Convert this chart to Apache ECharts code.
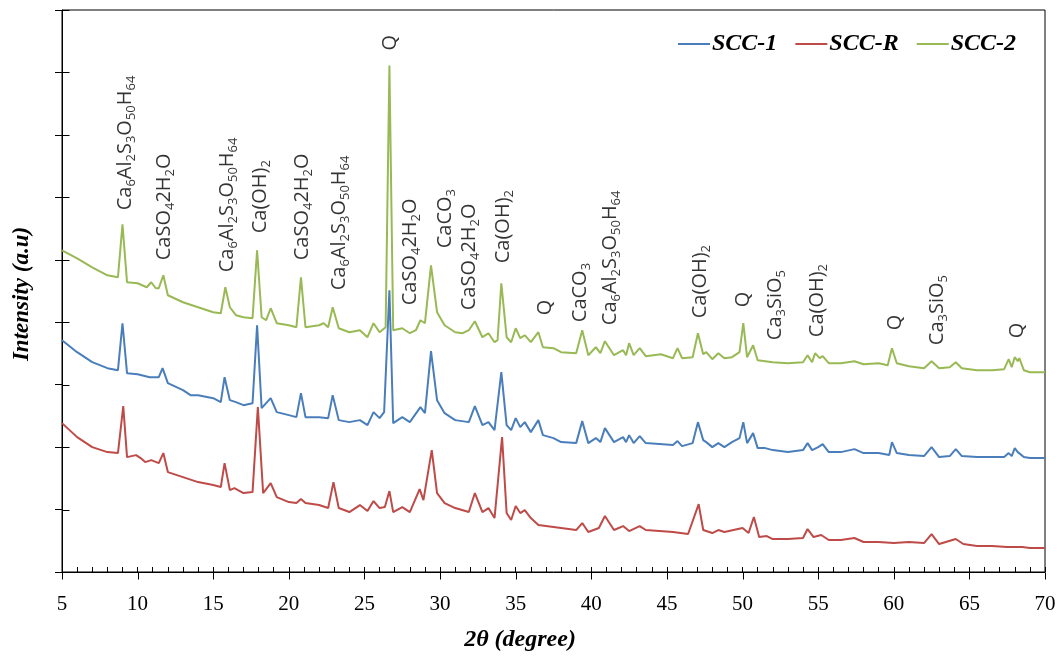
<!DOCTYPE html>
<html>
<head>
<meta charset="utf-8">
<script src="https://cdn.jsdelivr.net/npm/echarts@6/dist/echarts.min.js"></script>
<style>html,body{margin:0;padding:0;background:#fff}#c{width:1060px;height:656px}</style>
</head>
<body>
<div id="c"></div>
<script>
// 2θ (degree), intensity (a.u.)
const scc1 = [
[5,232],[6,220],[7,210],[8,204],[8.7,202],[9.0,249],[9.3,199],[10,198],[10.8,195],[11.4,195],[11.65,204],[12,189],[13,182],[13.5,177],[14,177],[15,174],[15.5,170],[15.75,195],[16.1,172],[16.5,170],[17,167],[17.6,169],[17.9,247],[18.2,164],[18.8,174],[19.2,160],[20,157],[20.5,155],[20.8,179],[21.1,155],[22,155],[22.6,154],[22.9,177],[23.3,152],[24,150],[24.7,152],[25.2,147],[25.6,160],[26.0,154],[26.3,160],[26.65,282],[26.9,149],[27.5,155],[28,150],[28.7,165],[29.0,159],[29.4,221],[29.8,172],[30.3,159],[31,152],[31.9,150],[32.3,166],[32.8,147],[33.2,150],[33.6,142],[34.05,200],[34.4,147],[34.7,142],[35.0,154],[35.3,145],[35.6,150],[36,140],[36.5,152],[36.8,137],[37.5,134],[38,130],[39,129],[39.4,151],[39.8,129],[40.3,134],[40.6,130],[40.9,144],[41.5,130],[42.1,135],[42.3,130],[42.5,137],[42.8,129],[43.2,136],[43.6,129],[44.5,128],[45.4,127],[45.7,131],[46,126],[46.7,129],[47.05,150],[47.4,132],[47.6,130],[48,125],[48.4,129],[48.8,125],[49.3,130],[49.8,134],[50.05,150],[50.3,129],[50.7,139],[51.0,124],[51.5,124],[52,122],[53,120],[54,122],[54.3,129],[54.6,122],[55.0,125],[55.3,128],[55.7,120],[56.5,120],[57.4,123],[58,119],[59,119],[59.7,117],[59.88,130],[60.2,119],[61,117],[62,116],[62.5,125],[63,115],[63.7,116],[64.1,123],[64.5,116],[65.5,115],[66.5,115],[67.3,115],[67.6,119],[67.8,116],[68.0,124],[68.2,120],[68.3,121],[68.6,115],[69,114],[70,114]
];
const sccR = [
[5,149],[6,135],[7,125],[8,120],[8.7,119],[9.05,166],[9.3,115],[9.9,117],[10.2,114],[10.5,110],[10.9,112],[11.4,109],[11.7,119],[12,100],[13,95],[14,90],[15,87],[15.5,85],[15.75,109],[16.1,82],[16.4,84],[17,79],[17.6,80],[17.95,165],[18.3,79],[18.8,89],[19.2,75],[20,70],[20.5,69],[20.8,73],[21.1,69],[22,67],[22.6,64],[22.95,90],[23.3,64],[24,60],[24.7,67],[25.2,61],[25.6,71],[26.0,64],[26.35,65],[26.65,81],[26.9,60],[27.5,65],[28,60],[28.65,83],[28.9,72],[29.45,122],[29.8,79],[30.3,69],[31,64],[31.9,60],[32.3,79],[32.8,60],[33.2,64],[33.6,54],[34.1,135],[34.4,59],[34.7,52],[35.0,66],[35.3,59],[35.6,62],[36,54],[36.5,47],[37.5,45],[38,44],[39,42],[39.4,49],[39.8,40],[40.5,44],[40.9,56],[41.5,42],[42.1,46],[42.5,41],[43.2,46],[43.6,42],[44.5,41],[45.4,40],[46.4,38],[47.1,68],[47.4,42],[48,39],[48.4,42],[48.8,40],[49.4,42],[50,44],[50.4,39],[50.75,55],[51.1,35],[51.6,36],[52,33],[53,33],[54,34],[54.3,43],[54.7,35],[55.2,37],[55.7,32],[56.5,32],[57.4,34],[58,30],[59,30],[60,29],[61,30],[62,29],[62.5,38],[63,28],[64.1,33],[64.6,28],[65.5,26],[66.5,26],[67.5,25],[68.5,25],[69,24],[70,24]
];
const scc2 = [
[5,322],[6,314],[7,305],[8,297],[8.7,295],[9.0,348],[9.3,290],[10,289],[10.6,285],[10.9,290],[11.2,284],[11.4,284],[11.7,297],[12,277],[13,270],[14,265],[15,260],[15.5,259],[15.8,285],[16.1,265],[16.5,257],[17,255],[17.6,254],[17.9,322],[18.2,255],[18.5,252],[18.8,264],[19.2,249],[20,247],[20.5,245],[20.8,295],[21.1,245],[22,247],[22.3,249],[22.6,245],[22.9,265],[23.3,244],[24,240],[24.7,242],[25.2,235],[25.6,249],[26.0,240],[26.4,245],[26.65,507],[26.9,242],[27.5,244],[28,239],[28.4,242],[28.7,252],[29.0,249],[29.4,307],[29.8,260],[30.3,247],[31,240],[31.5,239],[31.9,242],[32.3,251],[32.8,235],[33.2,239],[33.6,230],[33.8,232],[34.05,289],[34.4,235],[34.7,230],[35.0,244],[35.3,234],[35.6,237],[36,230],[36.5,240],[36.8,225],[37.5,224],[38,220],[39,219],[39.4,242],[39.8,217],[40.3,225],[40.6,219],[40.9,231],[41.5,217],[42.1,222],[42.3,217],[42.5,229],[42.8,217],[43.2,224],[43.6,216],[44.6,218],[45.4,214],[45.7,224],[46,214],[46.7,215],[47.05,239],[47.4,218],[47.6,220],[48,213],[48.4,219],[48.8,214],[49.3,215],[49.8,220],[50.05,249],[50.3,215],[50.7,227],[51.0,212],[52,210],[53,209],[54,210],[54.3,217],[54.6,210],[54.8,219],[55.1,214],[55.3,216],[55.7,209],[56.5,209],[57.4,211],[58,208],[59,209],[59.6,207],[59.88,224],[60.2,209],[61,206],[62,204],[62.5,211],[63,204],[63.7,205],[64.1,210],[64.5,204],[65.5,202],[66.5,202],[67.3,203],[67.6,213],[67.8,205],[68.0,215],[68.2,211],[68.3,214],[68.6,202],[69,200],[70,200]
];
const seriesNames = ['SCC-1', 'SCC-R', 'SCC-2'];
const xTicks = [5, 10, 15, 20, 25, 30, 35, 40, 45, 50, 55, 60, 65, 70];
const yTicks = [0, 62.5, 125, 187.5, 250, 312.5, 375, 437.5, 500, 562.5];
// peak identification labels: [2θ, intensity at label start, phase]
const ettringite = 'Ca{s|6}Al{s|2}S{s|3}O{s|50}H{s|64}';
const gypsum = 'CaSO{s|4}2H{s|2}O';
const portlandite = 'Ca(OH){s|2}';
const calcite = 'CaCO{s|3}';
const alite = 'Ca{s|3}SiO{s|5}';
const quartz = 'Q';
const peakLabels = [
[9.17,362,ettringite],[11.74,312,gypsum],[15.91,300,ettringite],[18.09,339,portlandite],
[20.87,312,gypsum],[23.32,282,ettringite],[26.69,522,quartz],[28.01,267,gypsum],
[30.33,324,calcite],[31.91,262,gypsum],[34.16,309,portlandite],[36.94,257,quartz],
[39.25,250,calcite],[41.24,247,ettringite],[47.19,254,portlandite],[50.03,265,quartz],
[52.15,232,alite],[54.92,235,portlandite],[60.08,242,quartz],[62.86,227,alite],[68.15,234,quartz]
];

const colors = ['#4a7ebb', '#be4b48', '#98b954'];
const serif = "'Liberation Serif','Times New Roman',serif";
const chart = echarts.init(document.getElementById('c'), null, {renderer: 'canvas'});

function tickSeries(name, vals, toPoint, dx, dy) {
  return {
    name: name, type: 'custom', silent: true, clip: false, z: 10,
    data: vals.map(v => [v]),
    renderItem: function (params, api) {
      const p = api.coord(toPoint(api.value(0)));
      const x = Math.round(p[0]) + 0.5, y = Math.round(p[1]) + 0.5;
      return {type: 'line', shape: {x1: x, y1: y, x2: x + dx, y2: y + dy}, style: {stroke: '#000', lineWidth: 1}};
    }
  };
}

chart.setOption({
  animation: false,
  backgroundColor: '#fff',
  grid: {left: 62, right: 15, top: 10, bottom: 84, show: true, borderColor: '#000', borderWidth: 1, containLabel: false},
  xAxis: {
    type: 'value', min: 5, max: 70, interval: 5, splitLine: {show: false},
    axisLine: {show: true, onZero: false, lineStyle: {color: '#000', width: 1}},
    axisTick: {show: true, inside: true, length: 5, lineStyle: {color: '#000', width: 1}},
    minorTick: {show: true, splitNumber: 5, length: 5, lineStyle: {color: '#000', width: 1}},
    axisLabel: {show: true, color: '#000', fontFamily: serif, fontSize: 21, margin: 22,
      formatter: v => xTicks.includes(v) ? String(v) : ''}
  },
  yAxis: {
    type: 'value', min: 0, max: 562.5, interval: 62.5, splitLine: {show: false},
    axisLine: {show: true, onZero: false, lineStyle: {color: '#000', width: 1}},
    axisTick: {show: true, inside: false, length: 7, lineStyle: {color: '#000', width: 1}},
    axisLabel: {show: false}
  },
  legend: {
    data: seriesNames,
    left: 673, top: 27,
    icon: 'rect', itemWidth: 32, itemHeight: 2, itemGap: 18,
    textStyle: {fontFamily: serif, fontStyle: 'italic', fontWeight: 'bold', fontSize: 24, color: '#000', padding: [0, 0, 0, -3]}
  },
  graphic: [
    {type: 'text', x: 520, y: 640, style: {text: '2θ (degree)', font: "italic bold 24px 'Liberation Serif'", fill: '#000', align: 'center', verticalAlign: 'middle'}},
    {type: 'text', rotation: Math.PI / 2, x: 22, y: 294, style: {text: 'Intensity (a.u)', font: "italic bold 23px 'Liberation Serif'", fill: '#000', align: 'center', verticalAlign: 'middle'}}
  ],
  series: [
    {name: seriesNames[0], type: 'line', data: scc1, showSymbol: false, color: colors[0], lineStyle: {width: 2, color: colors[0]}, z: 3},
    {name: seriesNames[1], type: 'line', data: sccR, showSymbol: false, color: colors[1], lineStyle: {width: 2, color: colors[1]}, z: 2},
    {name: seriesNames[2], type: 'line', data: scc2, showSymbol: false, color: colors[2], lineStyle: {width: 2, color: colors[2]}, z: 4},
    tickSeries('xTicksOut', xTicks, v => [v, 0], 0, 7),
    tickSeries('yTicksIn', yTicks, v => [5, v], 7, 0),
    {
      name: 'phases', type: 'scatter', symbolSize: 0, silent: true,
      data: peakLabels.map(p => ({value: [p[0], p[1]], name: p[2]})),
      label: {
        show: true, position: 'inside', rotate: 90, align: 'left', verticalAlign: 'middle',
        formatter: p => p.name,
        fontFamily: "'Open Sans', sans-serif", fontSize: 20, lineHeight: 26, color: '#000',
        rich: {s: {fontFamily: "'Open Sans', sans-serif", fontSize: 13, lineHeight: 12, verticalAlign: 'bottom', color: '#000'}}
      },
      labelLayout: {hideOverlap: false}
    }
  ]
});
</script>
</body>
</html>
